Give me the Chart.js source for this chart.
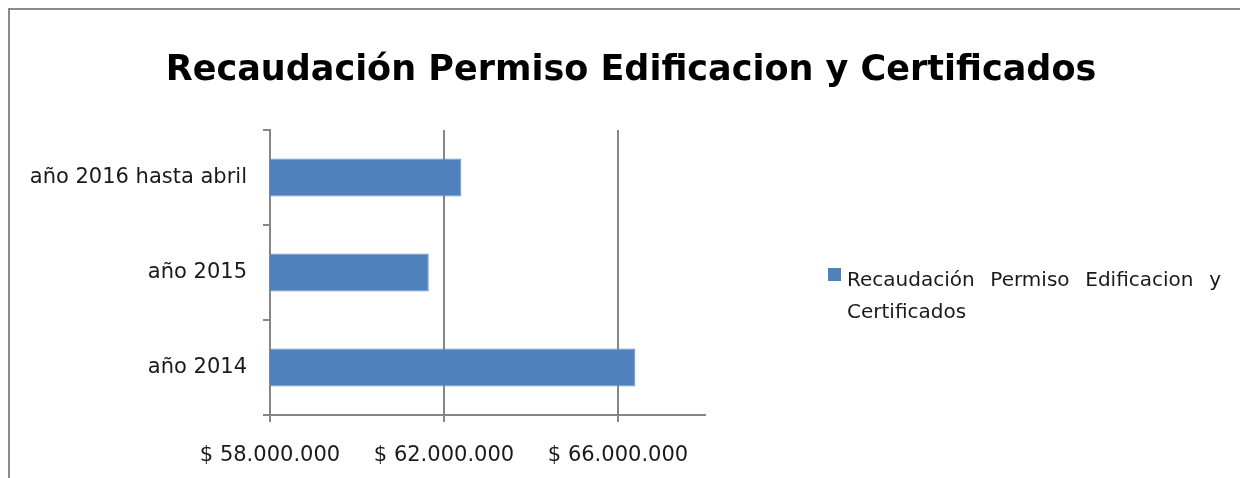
<!DOCTYPE html>
<html>
<head>
<meta charset="utf-8">
<script src="https://cdn.jsdelivr.net/npm/chart.js@4"></script>
<style>
  html, body { margin: 0; padding: 0; background: #fff; }
  #wrap { position: relative; width: 1240px; height: 478px; overflow: hidden; }
  #frame { position: absolute; left: 8px; top: 8px; width: 1300px; height: 500px;
           border-top: 2px solid #8a8a8a; border-left: 2px solid #8a8a8a; pointer-events: none; }
</style>
</head>
<body>
<div id="wrap">
  <canvas id="chart" width="1240" height="478"></canvas>
  <div id="frame"></div>
</div>
<script>
// chart data
const categories = ['año 2014', 'año 2015', 'año 2016 hasta abril'];
const recaudacion = [66400000, 61650000, 62400000];
const seriesName = 'Recaudación Permiso Edificacion y Certificados';
const chartTitle = 'Recaudación Permiso Edificacion y Certificados';
const axisMin = 58000000;
const axisMax = 68000000;
const xTickValues = [58000000, 62000000, 66000000, 68000000];

const FONT = '"DejaVu Sans", sans-serif';

function formatPeso(v) {
    return '$ ' + v.toLocaleString('de-DE');
}

// title drawn over the full width (layout padding would push the built-in one left)
const wideTitle = {
    id: 'wideTitle',
    afterDraw(chart) {
        const ctx = chart.ctx;
        ctx.save();
        ctx.font = 'bold 35px ' + FONT;
        ctx.fillStyle = '#000';
        ctx.textAlign = 'center';
        ctx.textBaseline = 'alphabetic';
        ctx.fillText(chartTitle, 631, 80);
        ctx.restore();
    }
};

// legend on the right, wrapped and justified like the original
const sideLegend = {
    id: 'sideLegend',
    afterDraw(chart) {
        const ctx = chart.ctx;
        const color = chart.data.datasets[0].backgroundColor;
        ctx.save();
        ctx.fillStyle = color;
        ctx.fillRect(828, 268, 13, 13);
        ctx.font = '20px ' + FONT;
        ctx.fillStyle = '#1a1a1a';
        ctx.textBaseline = 'alphabetic';
        const words = chart.data.datasets[0].label.split(' ');
        const line1 = words.slice(0, 4);
        const line2 = words.slice(4).join(' ');
        const left = 847, right = 1221;
        const used = line1.reduce((s, w) => s + ctx.measureText(w).width, 0);
        const gap = (right - left - used) / (line1.length - 1);
        let x = left;
        line1.forEach(w => {
            ctx.fillText(w, x, 286);
            x += ctx.measureText(w).width + gap;
        });
        ctx.fillText(line2, left, 318);
        ctx.restore();
    }
};

const hideMax = c => (c.tick && c.tick.value === axisMax ? 'rgba(0,0,0,0)' : '#868686');

new Chart(document.getElementById('chart'), {
    type: 'bar',
    data: {
        labels: categories,
        datasets: [{
            label: seriesName,
            data: recaudacion,
            backgroundColor: '#4F81BD',
            borderColor: '#6a98d0',
            borderWidth: 1,
            barPercentage: 0.4,
            categoryPercentage: 1
        }]
    },
    options: {
        indexAxis: 'y',
        responsive: false,
        animation: false,
        layout: { padding: { left: 0, right: 535, top: 130, bottom: 0 } },
        plugins: {
            legend: { display: false },
            tooltip: { enabled: false },
            title: { display: false }
        },
        scales: {
            x: {
                min: axisMin,
                max: axisMax,
                afterFit(scale) { scale.height = 63; },
                afterBuildTicks(scale) {
                    scale.ticks = xTickValues.map(v => ({ value: v }));
                },
                ticks: {
                    autoSkip: false,
                    color: '#1a1a1a',
                    font: { family: FONT, size: 21 },
                    padding: 21,
                    maxRotation: 0,
                    callback: v => (v === axisMax ? '' : formatPeso(v))
                },
                grid: {
                    color: hideMax,
                    tickColor: hideMax,
                    lineWidth: 2,
                    tickLength: 7
                },
                border: { color: '#868686', width: 2 }
            },
            y: {
                reverse: true,
                offset: true,
                afterFit(scale) { scale.width = 270; },
                ticks: {
                    color: '#1a1a1a',
                    font: { family: FONT, size: 21 },
                    padding: 16
                },
                grid: {
                    offset: true,
                    drawOnChartArea: false,
                    color: '#868686',
                    lineWidth: 2,
                    tickLength: 7
                },
                border: { color: '#868686', width: 2 }
            }
        }
    },
    plugins: [wideTitle, sideLegend]
});
</script>
</body>
</html>
